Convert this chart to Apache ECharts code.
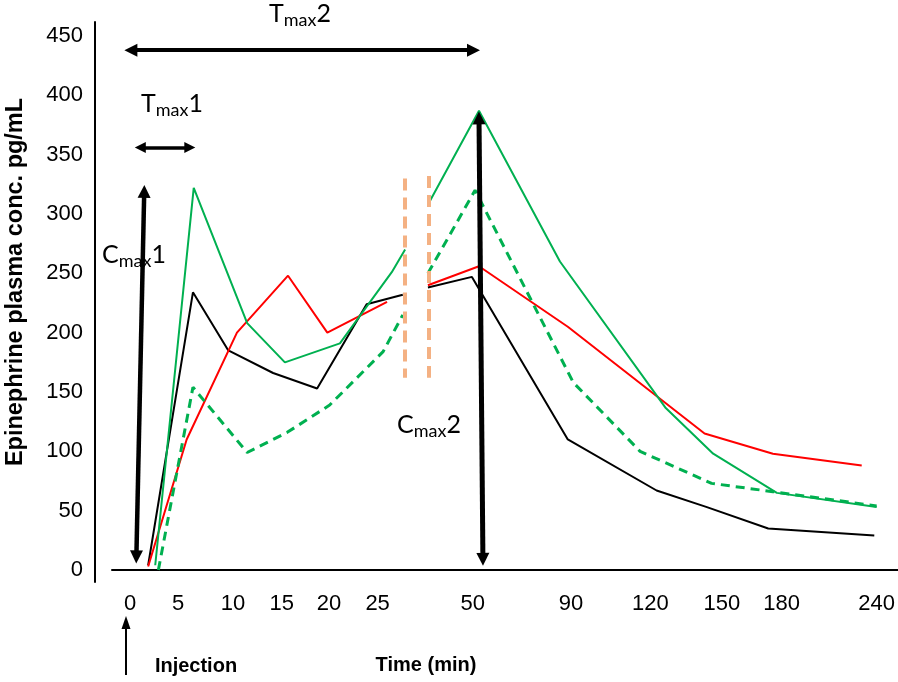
<!DOCTYPE html>
<html>
<head>
    <meta charset="utf-8">
    <title>Epinephrine plasma concentration</title>
    <script src="https://cdn.jsdelivr.net/npm/echarts@6/dist/echarts.min.js"></script>
</head>
<body style="margin:0">
    <div id="main" style="width: 898px;height:682px;"></div>
    <script>
        // x positions are on the drawn (non-linear) time scale, 0..100 across the axis
        var tickPos = [2.3, 8.4, 15.4, 21.6, 27.6, 33.8, 45.9, 58.4, 68.5, 77.6, 85.2, 97.3];
        var tickLabels = ['0', '5', '10', '15', '20', '25', '50', '90', '120', '150', '180', '240'];

        // null = break in the curve (between the orange dashed marks)
        var blackX = [4.6, 10.3, 14.8, 20.5, 26.1, 32.4, 37.0, 38.6, 40.2, 45.8, 58.0, 69.3, 75.7, 83.5, 97.0];
        var blackY = [4, 234, 185, 166, 153, 224, 232, null, 238, 247, 110, 67, 53, 35, 29];

        var redX = [4.6, 9.5, 15.9, 22.4, 27.4, 35.0, 38.6, 40.2, 46.7, 58.0, 75.4, 84.1, 95.4];
        var redY = [3, 110, 200, 248, 200, 226, null, 240, 256, 205, 115, 98, 88];

        var greenX = [5.5, 10.4, 17.2, 22.0, 29.0, 35.6, 37.3, 38.6, 40.3, 46.7, 57.0, 70.4, 76.5, 84.6, 97.3];
        var greenY = [4, 322, 208, 175, 191, 251, 270, null, 309, 387, 260, 137, 98, 65, 53];

        var dashX = [5.9, 10.3, 17.2, 22.3, 27.7, 34.5, 37.0, 38.6, 40.2, 46.2, 58.7, 67.2, 76.3, 84.1, 97.3];
        var dashY = [0, 154, 99, 116, 139, 184, 215, null, 250, 320, 158, 100, 73, 66, 54];

        // orange dashed markers: [x, yFrom, yTo]
        var orangeMarks = [[37.25, 162, 330], [40.3, 162, 332]];

        // annotation arrows: [x1, y1, x2, y2, width, headSize]
        var arrows = [
            [2.4, 438, 46.0, 438, 4, 13],    // Tmax2
            [3.6, 356, 9.9, 356, 3.5, 11],   // Tmax1
            [4.1, 319, 3.1, 11, 4.5, 13],    // Cmax1
            [46.7, 381, 47.2, 9, 5, 13]      // Cmax2
        ];

        function pairs(xs, ys) {
            return xs.map(function (x, i) {
                return ys[i] === null ? [x, '-'] : [x, ys[i]];
            });
        }

        function subText(main, sub, tail) {
            return '{a|' + main + '}{b|' + sub + '}{a|' + tail + '}';
        }

        var rich = {
            a: { fontFamily: 'Lato', fontSize: 25, lineHeight: 28, verticalAlign: 'top', fill: '#000' },
            b: { fontFamily: 'Lato', fontSize: 18, lineHeight: 18, padding: [17, 0, 0, 0], verticalAlign: 'bottom', fill: '#000' }
        };

        var myChart = echarts.init(document.getElementById('main'));

        var option = {
            animation: false,
            grid: [
                { left: 112, right: 0, top: 36, bottom: 112 },
                { left: 95, width: 1, top: 22, bottom: 100 }
            ],
            xAxis: [{
                type: 'value',
                min: 0,
                max: 100,
                axisLine: { lineStyle: { color: '#000', width: 2 } },
                axisTick: { show: false },
                splitLine: { show: false },
                axisLabel: {
                    customValues: tickPos,
                    formatter: function (v) {
                        var i = tickPos.indexOf(v);
                        return i >= 0 ? tickLabels[i] : '';
                    },
                    fontFamily: 'Liberation Sans',
                    fontSize: 22,
                    color: '#000',
                    margin: 23
                }
            }, {
                type: 'value',
                gridIndex: 1,
                show: false
            }],
            yAxis: [{
                type: 'value',
                min: 0,
                max: 450,
                interval: 50,
                axisLine: { show: false },
                axisTick: { show: false },
                splitLine: { show: false },
                axisLabel: {
                    fontFamily: 'Liberation Sans',
                    fontSize: 22,
                    color: '#000',
                    margin: 29
                }
            }, {
                type: 'value',
                gridIndex: 1,
                min: 0,
                max: 1,
                axisLine: { show: true, lineStyle: { color: '#000', width: 2 } },
                axisTick: { show: false },
                axisLabel: { show: false },
                splitLine: { show: false }
            }],
            series: [{
                name: 'black',
                type: 'line',
                showSymbol: false,
                symbol: 'none',
                lineStyle: { color: '#000', width: 2 },
                data: pairs(blackX, blackY),
                markLine: {
                    silent: true,
                    animation: false,
                    symbol: ['triangle', 'triangle'],
                    label: { show: false },
                    data: arrows.map(function (a) {
                        return [
                            { coord: [a[0], a[1]], symbolSize: a[5], lineStyle: { color: '#000', width: a[4], type: 'solid' } },
                            { coord: [a[2], a[3]], symbolSize: a[5] }
                        ];
                    })
                }
            }, {
                name: 'red',
                type: 'line',
                showSymbol: false,
                symbol: 'none',
                lineStyle: { color: '#ff0000', width: 2 },
                data: pairs(redX, redY)
            }, {
                name: 'green',
                type: 'line',
                showSymbol: false,
                symbol: 'none',
                lineStyle: { color: '#00b050', width: 2 },
                data: pairs(greenX, greenY)
            }, {
                name: 'green dashed',
                type: 'line',
                showSymbol: false,
                symbol: 'none',
                lineStyle: { color: '#00b050', width: 3, type: [9, 6] },
                data: pairs(dashX, dashY),
                markLine: {
                    silent: true,
                    animation: false,
                    symbol: ['none', 'none'],
                    label: { show: false },
                    lineStyle: { color: '#f4b183', width: 4, type: [12, 7] },
                    data: orangeMarks.map(function (m) {
                        return [{ coord: [m[0], m[2]] }, { coord: [m[0], m[1]] }];
                    })
                }
            }],
            graphic: [{
                type: 'text',
                x: 16,
                y: 282,
                rotation: Math.PI / 2,
                style: {
                    text: 'Epinephrine plasma conc. pg/mL',
                    fontFamily: 'Liberation Sans',
                    fontWeight: 'bold',
                    fontSize: 23.5,
                    fill: '#000',
                    align: 'center',
                    verticalAlign: 'middle'
                }
            }, {
                type: 'text',
                x: 196,
                y: 666,
                style: {
                    text: 'Injection',
                    fontFamily: 'Liberation Sans',
                    fontWeight: 'bold',
                    fontSize: 20,
                    fill: '#000',
                    align: 'center',
                    verticalAlign: 'middle'
                }
            }, {
                type: 'text',
                x: 426,
                y: 665,
                style: {
                    text: 'Time (min)',
                    fontFamily: 'Liberation Sans',
                    fontWeight: 'bold',
                    fontSize: 20,
                    fill: '#000',
                    align: 'center',
                    verticalAlign: 'middle'
                }
            }, {
                type: 'line',
                shape: { x1: 126, y1: 675, x2: 126, y2: 626 },
                style: { stroke: '#000', lineWidth: 2 }
            }, {
                type: 'polygon',
                shape: { points: [[126, 616], [121.5, 629], [130.5, 629]] },
                style: { fill: '#000' }
            }, {
                type: 'text', x: 269, y: 1,
                style: { text: subText('T', 'max', '2'), rich: rich }
            }, {
                type: 'text', x: 141, y: 91,
                style: { text: subText('T', 'max', '1'), rich: rich }
            }, {
                type: 'text', x: 102, y: 242,
                style: { text: subText('C', 'max', '1'), rich: rich }
            }, {
                type: 'text', x: 397, y: 412,
                style: { text: subText('C', 'max', '2'), rich: rich }
            }]
        };

        myChart.setOption(option);
    </script>
</body>
</html>
